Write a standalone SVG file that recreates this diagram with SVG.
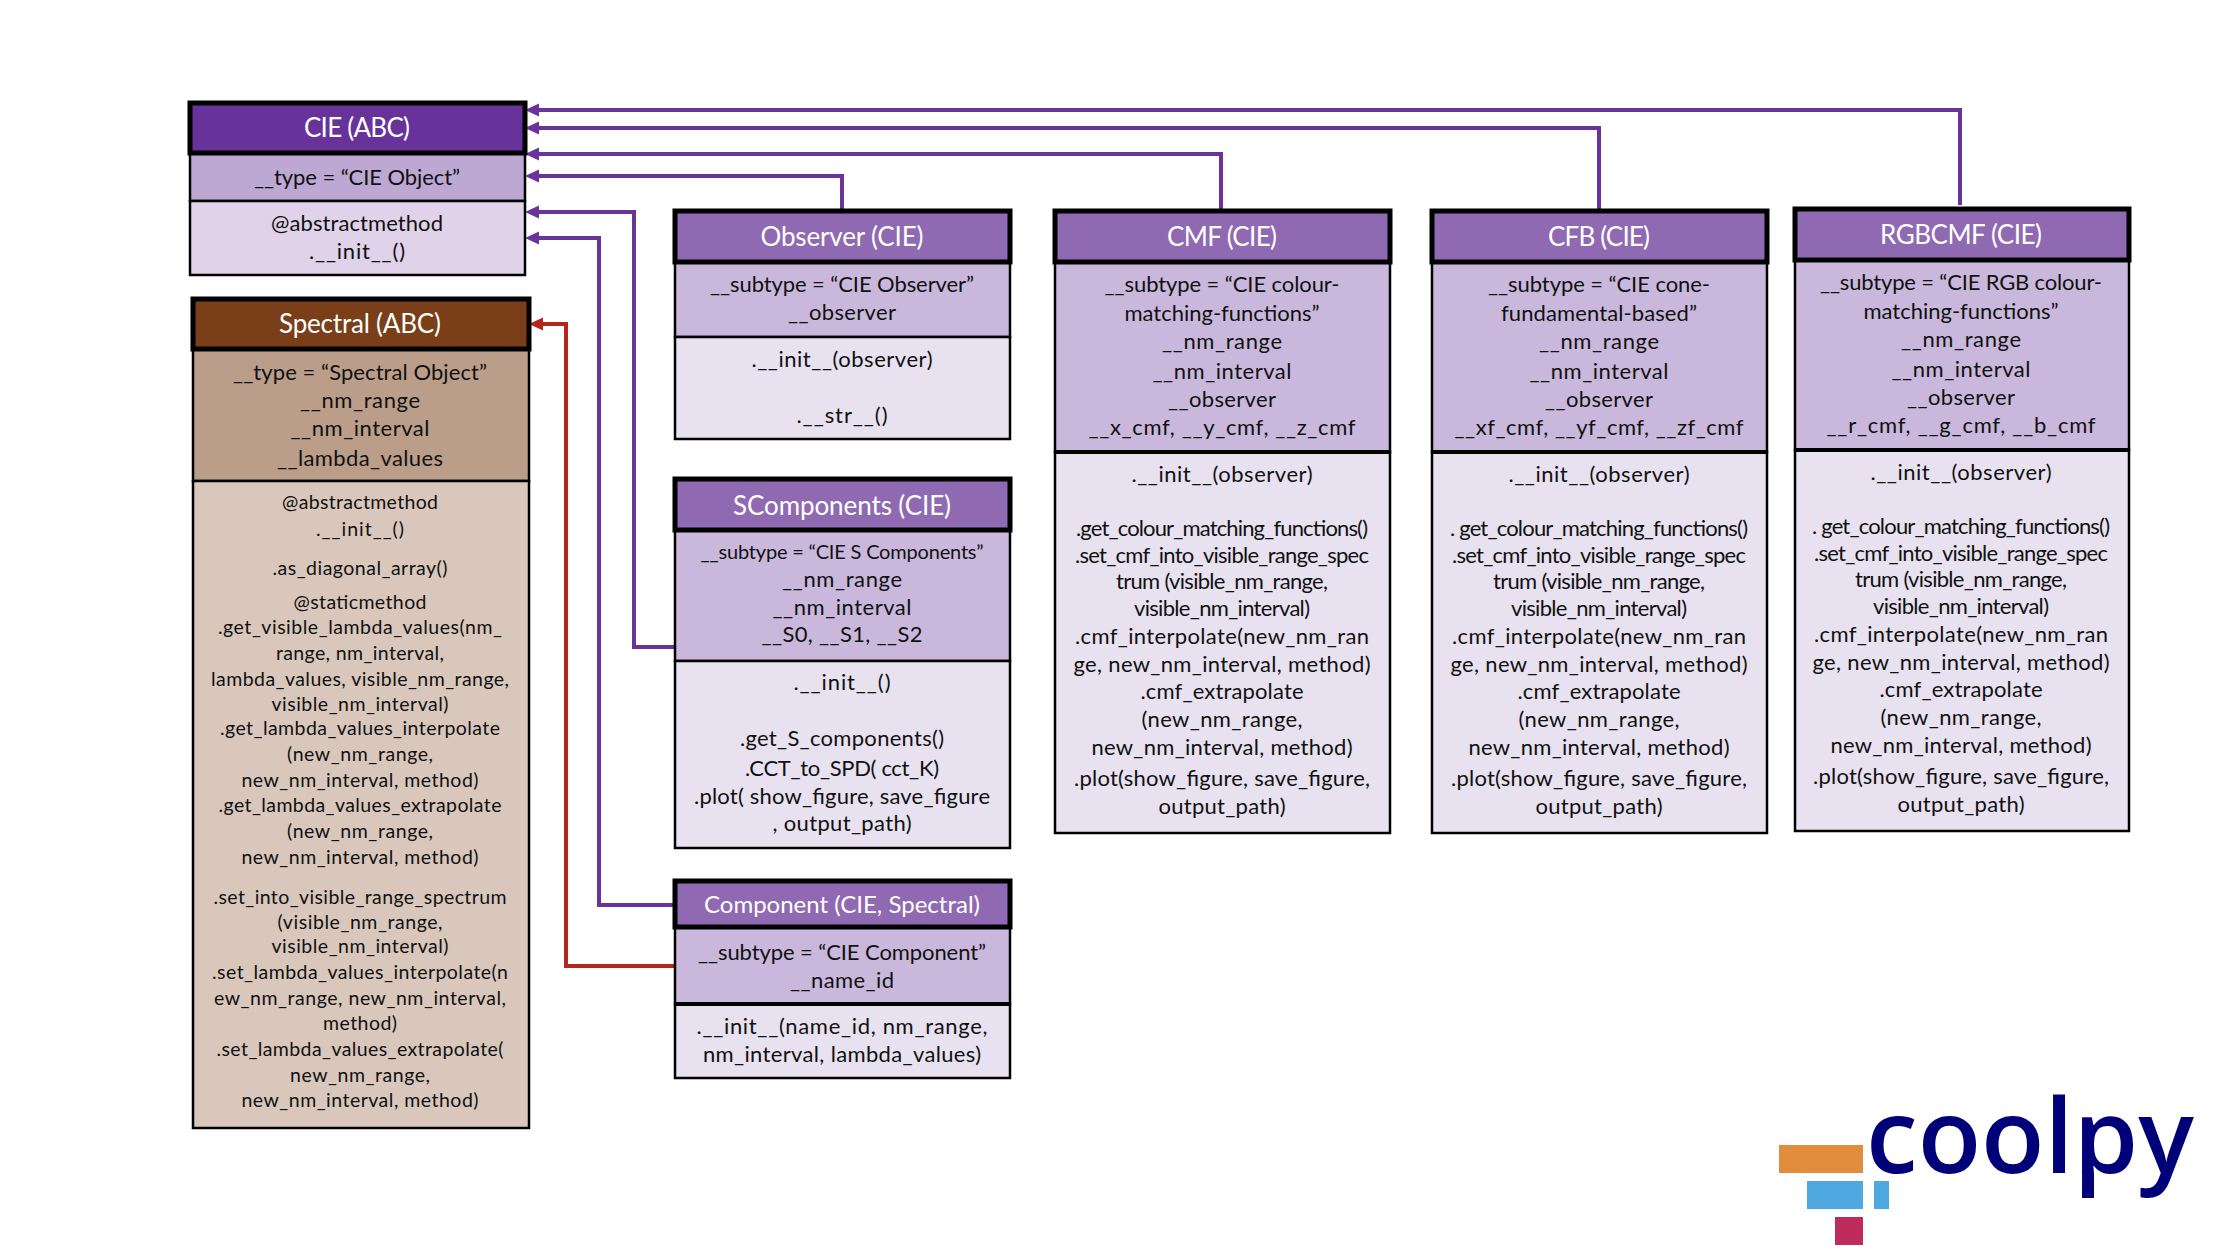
<svg xmlns="http://www.w3.org/2000/svg" width="2234" height="1260" viewBox="0 0 2234 1260">
<style>
text{font-family:"Lato","Carlito","Liberation Sans",sans-serif;text-anchor:middle;fill:#111;font-size:22px}
.h{fill:#fff;font-size:26px}
.s{font-size:19.5px}
.b{stroke:#000;stroke-width:2.5}
.t{stroke:#000;stroke-width:5}
.d{stroke:#000;stroke-width:4;fill:none}
.c{fill:none;stroke:#6A339B;stroke-width:4}
.r{fill:none;stroke:#B5261E;stroke-width:4}
.pt{fill:#6A339B}.rt{fill:#B5261E}
.ph{fill:#9069B3}.pa{fill:#C9B8DC}.pm{fill:#E7E1F0}
</style>
<rect width="2234" height="1260" fill="#fff"/>
<g id="connectors">
<path class="c" d="M1960 205V110H530"/><path class="pt" d="M525 110l14-6.500v13z"/>
<path class="c" d="M1599 209V128H530"/><path class="pt" d="M525 128l14-6.500v13z"/>
<path class="c" d="M1221 209V154H530"/><path class="pt" d="M525 154l14-6.500v13z"/>
<path class="c" d="M842 209V176H530"/><path class="pt" d="M525 176l14-6.500v13z"/>
<path class="c" d="M674 647H634V212H530"/><path class="pt" d="M525 212l14-6.500v13z"/>
<path class="c" d="M674 905H599V238H530"/><path class="pt" d="M525 238l14-6.500v13z"/>
<path class="r" d="M674 966H566V324H534"/><path class="rt" d="M529 324l14-6.500v13z"/>
</g>
<g id="cie">
<rect x="190" y="153" width="335" height="48" fill="#BDA8D4" class="b"/>
<rect x="190" y="201" width="335" height="74" fill="#DFD2E9" class="b"/>
<rect x="190" y="103" width="335" height="50" fill="#67339A" class="t"/>
<text class="h" x="357" y="137" textLength="106">CIE (ABC)</text>
<text x="357" y="185" textLength="206">__type = “CIE Object”</text>
<text x="357" y="231" textLength="172">@abstractmethod</text>
<text x="357" y="259" textLength="96">.__init__()</text>
</g>
<g id="spectral">
<rect x="193" y="349" width="336" height="132" fill="#BB9E89" class="b"/>
<rect x="193" y="481" width="336" height="647" fill="#D9C7BC" class="b"/>
<rect x="193" y="299" width="336" height="50" fill="#7A3E18" class="t"/>
<text class="h" x="360" y="333" textLength="162">Spectral (ABC)</text>
<text x="360" y="380" textLength="254">__type = “Spectral Object”</text>
<text x="360" y="408" textLength="120">__nm_range</text>
<text x="360" y="436" textLength="139">__nm_interval</text>
<text x="360" y="466" textLength="166">__lambda_values</text>
<text class="s" x="360" y="509" textLength="156">@abstractmethod</text>
<text class="s" x="360" y="536" textLength="88">.__init__()</text>
<text class="s" x="360" y="575" textLength="175">.as_diagonal_array()</text>
<text class="s" x="360" y="609" textLength="133">@staticmethod</text>
<text class="s" x="360" y="634" textLength="284">.get_visible_lambda_values(nm_</text>
<text class="s" x="360" y="660" textLength="168">range, nm_interval,</text>
<text class="s" x="360" y="686" textLength="298">lambda_values, visible_nm_range,</text>
<text class="s" x="360" y="711" textLength="177">visible_nm_interval)</text>
<text class="s" x="360" y="735" textLength="280">.get_lambda_values_interpolate</text>
<text class="s" x="360" y="761" textLength="146">(new_nm_range,</text>
<text class="s" x="360" y="787" textLength="237">new_nm_interval, method)</text>
<text class="s" x="360" y="812" textLength="283">.get_lambda_values_extrapolate</text>
<text class="s" x="360" y="838" textLength="146">(new_nm_range,</text>
<text class="s" x="360" y="864" textLength="237">new_nm_interval, method)</text>
<text class="s" x="360" y="904" textLength="293">.set_into_visible_range_spectrum</text>
<text class="s" x="360" y="929" textLength="165">(visible_nm_range,</text>
<text class="s" x="360" y="953" textLength="177">visible_nm_interval)</text>
<text class="s" x="360" y="979" textLength="296">.set_lambda_values_interpolate(n</text>
<text class="s" x="360" y="1005" textLength="292">ew_nm_range, new_nm_interval,</text>
<text class="s" x="360" y="1030" textLength="74">method)</text>
<text class="s" x="360" y="1056" textLength="287">.set_lambda_values_extrapolate(</text>
<text class="s" x="360" y="1082" textLength="140">new_nm_range,</text>
<text class="s" x="360" y="1107" textLength="237">new_nm_interval, method)</text>
</g>
<g id="observer">
<rect x="675" y="262" width="335" height="75" class="pa b"/>
<rect x="675" y="337" width="335" height="102" class="pm b"/>
<rect x="675" y="211" width="335" height="51" class="ph t"/>
<text class="h" x="842" y="246" textLength="163">Observer (CIE)</text>
<text x="842" y="292" textLength="264">__subtype = “CIE Observer”</text>
<text x="842" y="320" textLength="108">__observer</text>
<text x="842" y="367" textLength="181">.__init__(observer)</text>
<text x="842" y="423" textLength="91">.__str__()</text>
</g>
<g id="scomponents">
<rect x="675" y="530" width="335" height="131" class="pa b"/>
<rect x="675" y="661" width="335" height="187" class="pm b"/>
<rect x="675" y="479" width="335" height="51" class="ph t"/>
<text class="h" x="842" y="515" textLength="218">SComponents (CIE)</text>
<text x="842" y="559" style="font-size:20px" textLength="283">__subtype = “CIE S Components”</text>
<text x="842" y="587" textLength="120">__nm_range</text>
<text x="842" y="615" textLength="139">__nm_interval</text>
<text x="842" y="642" textLength="161">__S0, __S1, __S2</text>
<text x="842" y="690" textLength="97">.__init__()</text>
<text x="842" y="746" textLength="204">.get_S_components()</text>
<text x="842" y="776" textLength="194">.CCT_to_SPD( cct_K)</text>
<text x="842" y="804" textLength="296">.plot( show_figure, save_figure</text>
<text x="842" y="831" textLength="139">, output_path)</text>
</g>
<g id="component">
<rect x="675" y="927" width="335" height="77" class="pa b"/>
<rect x="675" y="1004" width="335" height="74" class="pm b"/>
<rect x="675" y="881" width="335" height="46" class="ph t"/>
<path class="d" d="M675 1004H1010"/>
<text class="h" x="842" y="913" style="font-size:24px" textLength="276">Component (CIE, Spectral)</text>
<text x="842" y="960" textLength="288">__subtype = “CIE Component”</text>
<text x="842" y="988" textLength="104">__name_id</text>
<text x="842" y="1034" textLength="291">.__init__(name_id, nm_range,</text>
<text x="842" y="1062" textLength="278">nm_interval, lambda_values)</text>
</g>
<g id="cmf">
<rect x="1055" y="262" width="335" height="190" class="pa b"/>
<rect x="1055" y="452" width="335" height="381" class="pm b"/>
<rect x="1055" y="211" width="335" height="51" class="ph t"/>
<path class="d" d="M1055 452H1390"/>
<text class="h" x="1222" y="246" textLength="110">CMF (CIE)</text>
<text x="1222" y="292" textLength="235">__subtype = “CIE colour-</text>
<text x="1222" y="321" textLength="195">matching-functions”</text>
<text x="1222" y="349" textLength="120">__nm_range</text>
<text x="1222" y="379" textLength="139">__nm_interval</text>
<text x="1222" y="407" textLength="108">__observer</text>
<text x="1222" y="435" textLength="267">__x_cmf, __y_cmf, __z_cmf</text>
<text x="1222" y="482" textLength="181">.__init__(observer)</text>
<text x="1222" y="536" textLength="292">.get_colour_matching_functions()</text>
<text x="1222" y="563" textLength="294">.set_cmf_into_visible_range_spec</text>
<text x="1222" y="589" textLength="212">trum (visible_nm_range,</text>
<text x="1222" y="616" textLength="176">visible_nm_interval)</text>
<text x="1222" y="644" textLength="294">.cmf_interpolate(new_nm_ran</text>
<text x="1222" y="672" textLength="297">ge, new_nm_interval, method)</text>
<text x="1222" y="699" textLength="163">.cmf_extrapolate</text>
<text x="1222" y="727" textLength="161">(new_nm_range,</text>
<text x="1222" y="755" textLength="261">new_nm_interval, method)</text>
<text x="1222" y="786" textLength="296">.plot(show_figure, save_figure,</text>
<text x="1222" y="814" textLength="127">output_path)</text>
</g>
<g id="cfb">
<rect x="1432" y="262" width="335" height="190" class="pa b"/>
<rect x="1432" y="452" width="335" height="381" class="pm b"/>
<rect x="1432" y="211" width="335" height="51" class="ph t"/>
<path class="d" d="M1432 452H1767"/>
<text class="h" x="1599" y="246" textLength="102">CFB (CIE)</text>
<text x="1599" y="292" textLength="222">__subtype = “CIE cone-</text>
<text x="1599" y="321" textLength="196">fundamental-based”</text>
<text x="1599" y="349" textLength="120">__nm_range</text>
<text x="1599" y="379" textLength="139">__nm_interval</text>
<text x="1599" y="407" textLength="108">__observer</text>
<text x="1599" y="435" textLength="289">__xf_cmf, __yf_cmf, __zf_cmf</text>
<text x="1599" y="482" textLength="181">.__init__(observer)</text>
<text x="1599" y="536" textLength="298">. get_colour_matching_functions()</text>
<text x="1599" y="563" textLength="294">.set_cmf_into_visible_range_spec</text>
<text x="1599" y="589" textLength="212">trum (visible_nm_range,</text>
<text x="1599" y="616" textLength="176">visible_nm_interval)</text>
<text x="1599" y="644" textLength="294">.cmf_interpolate(new_nm_ran</text>
<text x="1599" y="672" textLength="297">ge, new_nm_interval, method)</text>
<text x="1599" y="699" textLength="163">.cmf_extrapolate</text>
<text x="1599" y="727" textLength="161">(new_nm_range,</text>
<text x="1599" y="755" textLength="261">new_nm_interval, method)</text>
<text x="1599" y="786" textLength="296">.plot(show_figure, save_figure,</text>
<text x="1599" y="814" textLength="127">output_path)</text>
</g>
<g id="rgbcmf">
<rect x="1795" y="260" width="334" height="190" class="pa b"/>
<rect x="1795" y="450" width="334" height="381" class="pm b"/>
<rect x="1795" y="209" width="334" height="51" class="ph t"/>
<path class="d" d="M1795 450H2129"/>
<text class="h" x="1961" y="244" textLength="162">RGBCMF (CIE)</text>
<text x="1961" y="290" textLength="282">__subtype = “CIE RGB colour-</text>
<text x="1961" y="319" textLength="195">matching-functions”</text>
<text x="1961" y="347" textLength="120">__nm_range</text>
<text x="1961" y="377" textLength="139">__nm_interval</text>
<text x="1961" y="405" textLength="108">__observer</text>
<text x="1961" y="433" textLength="269">__r_cmf, __g_cmf, __b_cmf</text>
<text x="1961" y="480" textLength="181">.__init__(observer)</text>
<text x="1961" y="534" textLength="298">. get_colour_matching_functions()</text>
<text x="1961" y="561" textLength="294">.set_cmf_into_visible_range_spec</text>
<text x="1961" y="587" textLength="212">trum (visible_nm_range,</text>
<text x="1961" y="614" textLength="176">visible_nm_interval)</text>
<text x="1961" y="642" textLength="294">.cmf_interpolate(new_nm_ran</text>
<text x="1961" y="670" textLength="297">ge, new_nm_interval, method)</text>
<text x="1961" y="697" textLength="163">.cmf_extrapolate</text>
<text x="1961" y="725" textLength="161">(new_nm_range,</text>
<text x="1961" y="753" textLength="261">new_nm_interval, method)</text>
<text x="1961" y="784" textLength="296">.plot(show_figure, save_figure,</text>
<text x="1961" y="812" textLength="127">output_path)</text>
</g>
<g id="logo">
<rect x="1779" y="1145" width="84" height="28" fill="#E28D3E"/>
<rect x="1807" y="1181" width="56" height="28" fill="#4FA8E0"/>
<rect x="1874" y="1181" width="15" height="28" fill="#4FA8E0"/>
<rect x="1835" y="1217" width="28" height="28" fill="#BF2B5C"/>
<text x="2030" y="1173" textLength="328" lengthAdjust="spacingAndGlyphs" style="font-family:'Open Sans',sans-serif;font-weight:600;font-size:104px;fill:#000078">coolpy</text>
</g>
</svg>
